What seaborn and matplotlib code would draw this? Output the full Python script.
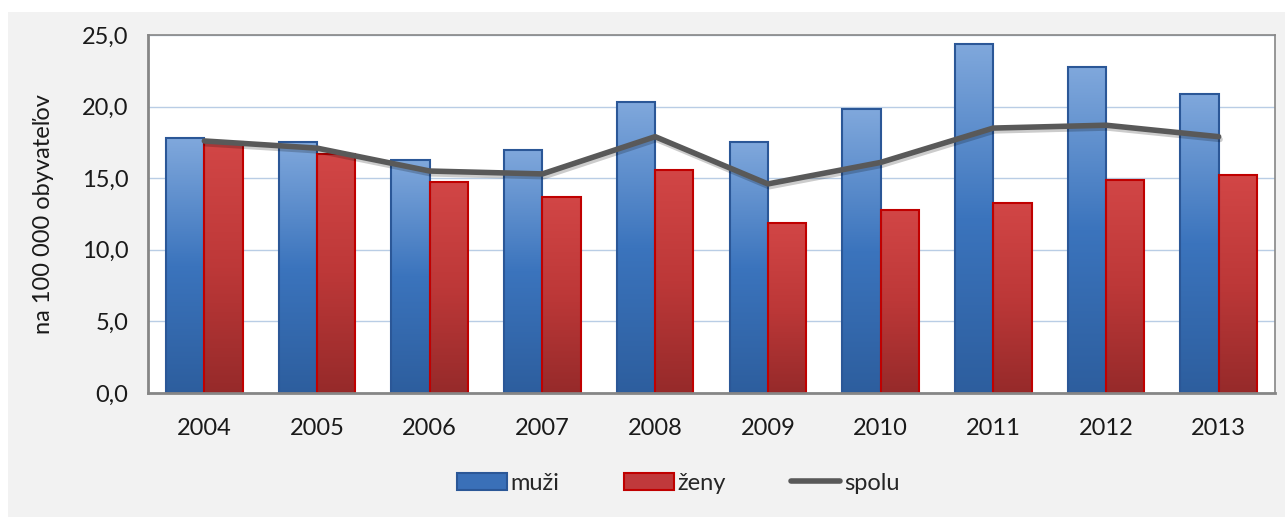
import numpy as np
import matplotlib
matplotlib.use("Agg")
import matplotlib.pyplot as plt
import matplotlib.patheffects as pe
from matplotlib.patches import Rectangle
from matplotlib.colors import LinearSegmentedColormap
import pandas as pd
import seaborn as sns

years = ["2004", "2005", "2006", "2007", "2008", "2009", "2010", "2011", "2012", "2013"]
muzi = [17.8, 17.5, 16.3, 17.0, 20.3, 17.5, 19.8, 24.4, 22.8, 20.9]
zeny = [17.5, 16.7, 14.7, 13.7, 15.6, 11.9, 12.8, 13.3, 14.9, 15.2]
spolu = [17.6, 17.1, 15.5, 15.3, 17.9, 14.6, 16.1, 18.5, 18.7, 17.9]

df = pd.DataFrame({"rok": years, "muži": muzi, "ženy": zeny})
df = pd.melt(df, id_vars="rok", var_name="pohlavie", value_name="hodnota")

sns.set_style("white")
plt.rcParams["font.family"] = ["Lato", "DejaVu Sans"]

fig = plt.figure(figsize=(12.85, 5.17), dpi=100, facecolor="white")
fig.patches.append(Rectangle((8 / 1285, 0), 1, 1 - 12 / 517, transform=fig.transFigure,
                             facecolor="#f2f2f2", edgecolor="none", zorder=-10))
ax = fig.add_axes([148 / 1285, 1 - 393 / 517, 1127 / 1285, 358 / 517])
ax.set_facecolor("white")

sns.barplot(data=df, x="rok", y="hodnota", hue="pohlavie", ax=ax, width=0.68,
            palette={"muži": "#3a70b8", "ženy": "#c0393b"}, saturation=1, legend=True)

# gradient fill + edges
cmaps = {
    0: LinearSegmentedColormap.from_list("b", ["#2d5e9e", "#3b74bd", "#80a8dc"]),
    1: LinearSegmentedColormap.from_list("r", ["#962a2a", "#bd3838", "#d24646"]),
}
edges = {0: "#2b5797", 1: "#c00000"}
grad = np.linspace(0, 1, 256).reshape(-1, 1)
for i, cont in enumerate(ax.containers):
    for bar in cont:
        bar.set_edgecolor(edges[i])
        bar.set_linewidth(1.5)
        x0, y0 = bar.get_x(), bar.get_y()
        w, h = bar.get_width(), bar.get_height()
        im = ax.imshow(grad, cmap=cmaps[i], origin="lower", aspect="auto",
                       extent=[x0, x0 + w, y0, y0 + h], zorder=bar.get_zorder())
        im.set_clip_path(bar)
        bar.set_facecolor("none")
        bar.set_zorder(bar.get_zorder() + 0.1)

sns.lineplot(x=np.arange(len(years)), y=spolu, ax=ax, color="#595959", linewidth=4,
             label="spolu", zorder=5,
             path_effects=[pe.SimpleLineShadow(offset=(1, -2), alpha=0.2, shadow_color="black"),
                           pe.Normal()])

ax.set_xlim(-0.5, len(years) - 0.5)
ax.set_ylim(0, 25)
ax.set_yticks(np.arange(0, 26, 5))
ax.set_yticklabels([f"{v:.1f}".replace(".", ",") for v in np.arange(0, 26, 5)])
ax.yaxis.grid(True, color="#b9cde5", linewidth=1)
ax.set_axisbelow(True)
ax.set_xticks(np.arange(len(years)))
ax.set_xticklabels(years)
ax.set_xticks(np.arange(-0.5, len(years)), minor=True)
ax.tick_params(axis="x", which="major", length=0, pad=18, labelsize=17, colors="#1a1a1a")
ax.tick_params(axis="x", which="minor", length=6, color="#868686", width=1.5, direction="out")
ax.tick_params(axis="y", length=6, width=1.5, direction="out", labelsize=17, pad=8,
               colors="#868686", labelcolor="#1a1a1a")
for s in ax.spines.values():
    s.set_color("#868686")
    s.set_linewidth(1.2)
ax.spines["left"].set_linewidth(2)
ax.spines["bottom"].set_linewidth(2)
ax.set_xlabel("")
ax.set_ylabel("na 100 000 obyvateľov", fontsize=17, labelpad=20, color="#1a1a1a")

handles, labels = ax.get_legend_handles_labels()
ax.get_legend().remove()
leg = fig.legend(handles, labels, loc="center", bbox_to_anchor=(0.528, 0.065), ncol=3,
                 frameon=False, fontsize=17, handlelength=2.1, handleheight=0.75,
                 handletextpad=0.15, columnspacing=2.75)
leg.legend_handles[0].set_facecolor("#3a70b8")
leg.legend_handles[0].set_edgecolor("#2b5797")
leg.legend_handles[1].set_facecolor("#c0393b")
leg.legend_handles[1].set_edgecolor("#c00000")
for h in leg.legend_handles[:2]:
    h.set_linewidth(1.5)
leg.legend_handles[2].set_path_effects([])

fig.savefig("out.png", dpi=100, facecolor=fig.get_facecolor())
